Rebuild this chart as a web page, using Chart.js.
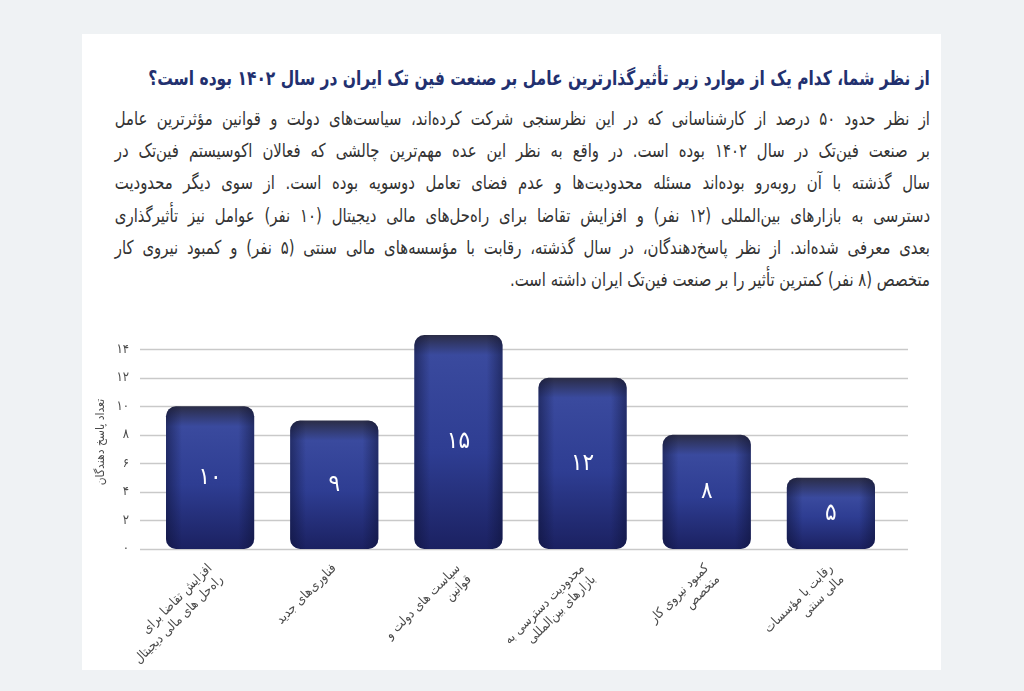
<!DOCTYPE html>
<html lang="fa">
<head>
<meta charset="utf-8">
<script src="https://cdn.jsdelivr.net/npm/chart.js@4.4.1/dist/chart.umd.min.js"></script>
<style>
html,body{margin:0;padding:0;background:#eff2f4;}
body{width:1024px;height:691px;position:relative;overflow:hidden;font-family:"DejaVu Sans Condensed","DejaVu Sans",sans-serif;}
#card{position:absolute;left:82px;top:34px;width:859px;height:636px;background:#fff;}
#title{position:absolute;right:11px;top:29px;direction:rtl;font-weight:bold;font-size:20px;line-height:30px;color:#22306f;white-space:nowrap;transform:scaleX(0.86);transform-origin:right top;}
#text{position:absolute;right:11px;top:68px;width:937px;direction:rtl;font-size:19px;color:#333;transform:scaleX(0.87);transform-origin:right top;}
#text div{height:32.2px;line-height:32px;text-align:justify;text-align-last:justify;white-space:nowrap;}
#text div.last{text-align-last:start;}
#chartBox{position:absolute;left:0;top:266px;width:859px;height:370px;}
</style>
</head>
<body>
<div id="card">
<div id="title">از نظر شما، کدام یک از موارد زیر تأثیرگذارترین عامل بر صنعت فین تک ایران در سال ۱۴۰۲ بوده است؟</div>
<div id="text">
<div>از نظر حدود ۵۰ درصد از کارشناسانی که در این نظرسنجی شرکت کرده‌اند، سیاست‌های دولت و قوانین مؤثرترین عامل</div>
<div>بر صنعت فین‌تک در سال ۱۴۰۲ بوده است. در واقع به نظر این عده مهم‌ترین چالشی که فعالان اکوسیستم فین‌تک در</div>
<div>سال گذشته با آن روبه‌رو بوده‌اند مسئله محدودیت‌ها و عدم فضای تعامل دوسویه بوده است. از سوی دیگر محدودیت</div>
<div>دسترسی به بازارهای بین‌المللی (۱۲ نفر) و افزایش تقاضا برای راه‌حل‌های مالی دیجیتال (۱۰ نفر) عوامل نیز تأثیرگذاری</div>
<div>بعدی معرفی شده‌اند. از نظر پاسخ‌دهندگان، در سال گذشته، رقابت با مؤسسه‌های مالی سنتی (۵ نفر) و کمبود نیروی کار</div>
<div class="last">متخصص (۸ نفر) کمترین تأثیر را بر صنعت فین‌تک ایران داشته است.</div>
</div>
<div id="chartBox"><canvas id="factorChart"></canvas></div>
</div>
<script>
const categories = [
  ["افزایش تقاضا برای", "راه‌حل های مالی دیجیتال"],
  ["فناوری‌های جدید"],
  ["سیاست های دولت و", "قوانین"],
  ["محدودیت دسترسی به", "بازارهای بین‌المللی"],
  ["کمبود نیروی کار", "متخصص"],
  ["رقابت با مؤسسات", "مالی سنتی"]
];
const respondents = [10, 9, 15, 12, 8, 5];
const yTicks = [0, 2, 4, 6, 8, 10, 12, 14];
const yTitle = "تعداد پاسخ دهندگان";

const faDigits = "۰۱۲۳۴۵۶۷۸۹";
const toFa = n => String(n).replace(/\d/g, d => faDigits[d]);

const FONT = "'DejaVu Sans Condensed','DejaVu Sans',sans-serif";

// grid lines run a bit wider than the plot area
const gridPlugin = {
  id: "wideGrid",
  beforeDatasetsDraw(chart) {
    const c = chart.ctx, y = chart.scales.y;
    c.save();
    c.strokeStyle = "#c9c9c9";
    c.lineWidth = 1.5;
    yTicks.forEach(v => {
      const py = Math.round(y.getPixelForValue(v)) + 0.5;
      c.beginPath();
      c.moveTo(58, py);
      c.lineTo(826, py);
      c.stroke();
    });
    c.restore();
  }
};

const barDeco = {
  id: "barDeco",
  afterDatasetsDraw(chart) {
    const c = chart.ctx;
    const meta = chart.getDatasetMeta(0);
    meta.data.forEach((bar, i) => {
      const p = bar.getProps(["x", "y", "base", "width"], true);
      const l = p.x - p.width / 2;
      // darker side edges
      const g = c.createLinearGradient(l, 0, l + p.width, 0);
      g.addColorStop(0, "rgba(12,16,50,0.5)");
      g.addColorStop(0.18, "rgba(12,16,50,0)");
      g.addColorStop(0.82, "rgba(12,16,50,0)");
      g.addColorStop(1, "rgba(12,16,50,0.5)");
      c.save();
      c.beginPath();
      c.roundRect(l, p.y, p.width, p.base - p.y, 10);
      c.fillStyle = g;
      c.fill();
      c.restore();

      c.save();
      c.fillStyle = "#ffffff";
      c.font = "24px " + FONT;
      c.textAlign = "center";
      c.textBaseline = "middle";
      c.fillText(toFa(respondents[i]), p.x, (p.y + p.base) / 2);
      c.restore();
    });
  }
};

new Chart(document.getElementById("factorChart"), {
  type: "bar",
  data: {
    labels: categories,
    datasets: [{
      data: respondents,
      borderRadius: 10,
      borderSkipped: false,
      categoryPercentage: 1,
      barPercentage: 0.71,
      backgroundColor: ctx => {
        const chart = ctx.chart;
        if (!chart.chartArea || ctx.raw === undefined) return "#2f3f94";
        const y = chart.scales.y;
        const top = y.getPixelForValue(ctx.raw);
        const base = y.getPixelForValue(0);
        const h = base - top;
        const g = chart.ctx.createLinearGradient(0, top, 0, base);
        g.addColorStop(0, "#2b2d47");
        g.addColorStop(Math.min(0.3, 20 / h), "#3a4a9e");
        g.addColorStop(0.55, "#2e3d92");
        g.addColorStop(1, "#1b2161");
        return g;
      }
    }]
  },
  options: {
    responsive: true,
    maintainAspectRatio: false,
    animation: false,
    layout: { padding: { top: 35, right: 48, left: 0, bottom: 0 } },
    plugins: {
      legend: { display: false },
      tooltip: { enabled: false }
    },
    scales: {
      x: {
        grid: { display: false },
        border: { display: false },
        ticks: {
          autoSkip: false,
          minRotation: 45,
          maxRotation: 45,
          padding: 4,
          color: "#4a4a4a",
          font: { family: FONT, size: 13 }
        },
        afterFit: s => { s.height = 121; }
      },
      y: {
        min: 0,
        max: 15,
        grid: { display: false },
        border: { display: false },
        afterBuildTicks: s => { s.ticks = yTicks.map(v => ({ value: v })); },
        ticks: {
          padding: 11,
          color: "#4a4a4a",
          font: { family: FONT, size: 13 },
          callback: v => toFa(v)
        },
        title: {
          display: true,
          text: yTitle,
          color: "#4a4a4a",
          font: { family: FONT, size: 12 },
          padding: { top: 12, bottom: 0 }
        },
        afterFit: s => { s.width = 66; }
      }
    }
  },
  plugins: [gridPlugin, barDeco]
});
</script>
</body>
</html>
